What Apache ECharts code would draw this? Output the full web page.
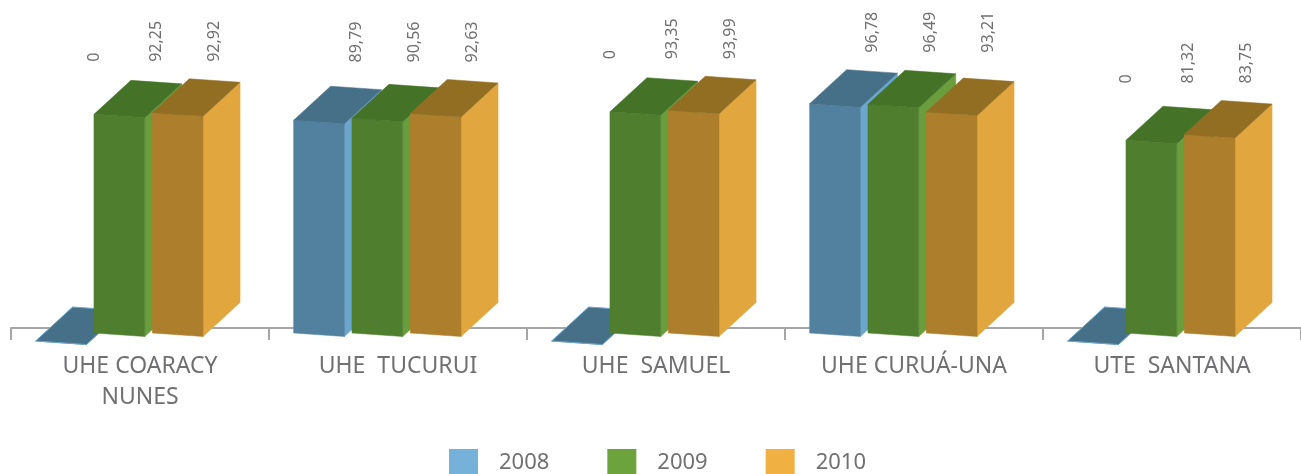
<!DOCTYPE html>
<html>
<head>
<meta charset="utf-8">
<script src="https://cdn.jsdelivr.net/npm/echarts@6/dist/echarts.min.js"></script>
<style>
  html, body { margin: 0; padding: 0; background: #fff; }
  #chart { width: 1301px; height: 474px; }
</style>
</head>
<body>
<div id="chart"></div>
<script>
const categories = ['UHE COARACY\nNUNES', 'UHE  TUCURUI', 'UHE  SAMUEL', 'UHE CURUÁ-UNA', 'UTE  SANTANA']
const years = ['2008', '2009', '2010']
const v2008 = [0, 89.79, 0, 96.78, 0]
const v2009 = [92.25, 90.56, 93.35, 96.49, 81.32]
const v2010 = [92.92, 92.63, 93.99, 93.21, 83.75]
const seriesValues = [v2008, v2009, v2010]

// face colours: legend / front / side / top
const palette = [
  { legend: '#75b1d8', front: '#52809f', side: '#6aa6cd', top: '#466f88' },
  { legend: '#6ca33c', front: '#4f7e2f', side: '#6a9e3c', top: '#447327' },
  { legend: '#f1b042', front: '#ad7f2c', side: '#e1a63e', top: '#926e22' }
]

const textColor = '#707073'
const depthX = 37
const depthY = -34
const slope = 3.5
const zeroDrop = 8
const labelGap = 17

function fmt(v) {
  return v === 0 ? '0' : v.toFixed(2).replace('.', ',')
}

function renderBar(params, api) {
  const j = params.seriesIndex
  const cat = api.value(0)
  const val = api.value(1)
  const band = api.size([1, 0])[0]
  const base = api.coord([cat, 0])
  const top = api.coord([cat, val])
  const w = band * 0.197
  const cx = base[0] - band * 0.08 + (j - 1) * band * 0.226
  const x0 = cx - w / 2
  const x1 = cx + w / 2
  let yb = base[1]
  let yt = top[1]
  if (val === 0) {
    yb += zeroDrop
    yt = yb
  }
  const c = palette[j]
  const catMax = Math.max(v2008[cat], v2009[cat], v2010[cat])
  const labelY = api.coord([cat, catMax])[1] + depthY - labelGap

  const children = [
    {
      type: 'polygon',
      shape: { points: [[x1, yt + slope], [x1 + depthX, yt + slope + depthY], [x1 + depthX, yb + slope + depthY], [x1, yb + slope]] },
      style: { fill: c.side, stroke: c.side, lineWidth: 0.5 }
    },
    {
      type: 'polygon',
      shape: { points: [[x0, yt], [x1, yt + slope], [x1, yb + slope], [x0, yb]] },
      style: { fill: c.front, stroke: c.front, lineWidth: 0.5 }
    },
    {
      type: 'polygon',
      shape: { points: [[x0, yt], [x1, yt + slope], [x1 + depthX, yt + slope + depthY], [x0 + depthX, yt + depthY]] },
      style: { fill: c.top, stroke: val === 0 ? c.side : c.top, lineWidth: val === 0 ? 1 : 0.5 }
    },
    {
      type: 'text',
      x: cx + (val === 0 ? depthX - 4 : depthX),
      y: labelY,
      rotation: Math.PI / 2,
      style: {
        text: fmt(val),
        fill: textColor,
        font: '16px "Noto Sans"',
        align: 'left',
        verticalAlign: 'middle'
      }
    }
  ]
  return { type: 'group', children: children }
}

const chart = echarts.init(document.getElementById('chart'))

const option = {
  animation: false,
  grid: { left: 11, right: -8, top: 96, bottom: 141 },
  legend: {
    data: years,
    left: 449,
    top: 449,
    padding: 0,
    icon: 'rect',
    itemWidth: 29,
    itemHeight: 27,
    itemGap: 58,
    textStyle: {
      fontFamily: 'Noto Sans',
      fontSize: 22,
      color: textColor,
      padding: [0, 0, 0, 16]
    }
  },
  xAxis: {
    type: 'category',
    data: categories,
    offset: -5,
    axisLine: { lineStyle: { color: '#a6a6a6', width: 2 } },
    axisTick: { show: true, length: 12, lineStyle: { color: '#a6a6a6', width: 2 } },
    axisLabel: {
      interval: 0,
      margin: 23,
      fontFamily: 'Noto Sans',
      fontSize: 23,
      lineHeight: 31,
      color: textColor
    }
  },
  yAxis: {
    type: 'value',
    min: 0,
    max: 100,
    show: false
  },
  series: years.map((y, j) => ({
    type: 'custom',
    name: y,
    clip: false,
    itemStyle: { color: palette[j].legend },
    encode: { x: 0, y: 1 },
    data: seriesValues[j].map((v, i) => [i, v]),
    renderItem: renderBar
  }))
}

chart.setOption(option)
</script>
</body>
</html>
